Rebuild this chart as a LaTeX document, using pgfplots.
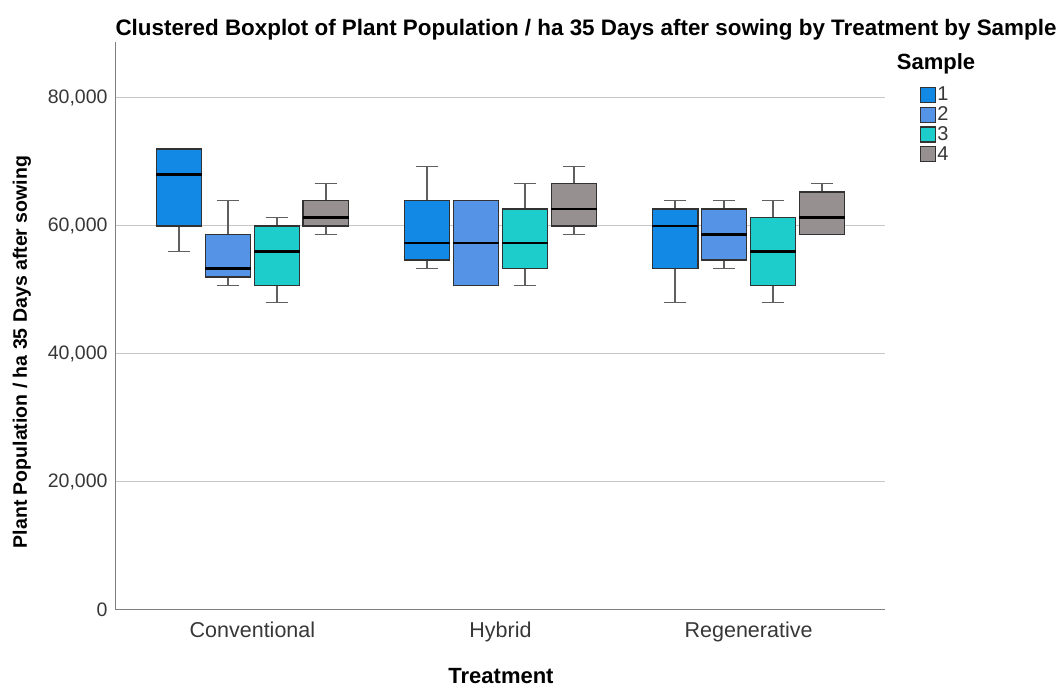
\documentclass[border=0pt]{standalone}
\usepackage{pgfplots}
\pgfplotsset{compat=1.18}
\usepgfplotslibrary{statistics}
\usepackage{fontspec}
\setmainfont{Liberation Sans}
\definecolor{c1}{RGB}{18,137,228}
\definecolor{c2}{RGB}{84,147,229}
\definecolor{c3}{RGB}{28,205,203}
\definecolor{c4}{RGB}{150,145,144}
\definecolor{boxedge}{RGB}{50,50,50}
\definecolor{whisk}{RGB}{95,95,95}
\definecolor{ticktext}{RGB}{55,55,55}
\begin{document}
\begin{tikzpicture}[x=1pt,y=1pt]
\useasboundingbox (-116,-77) rectangle (945,610);
\begin{axis}[
  at={(0,0)}, anchor=south west,
  scale only axis, width=769pt, height=568pt,
  xmin=-0.55, xmax=2.55, ymin=0, ymax=88750,
  axis x line*=bottom, axis y line*=left,
  axis line style={draw=black!50, line width=1pt},
  xtick={0,1,2}, xticklabels={Conventional,Hybrid,Regenerative},
  ytick={0,20000,40000,60000,80000},
  scaled y ticks=false,
  /pgf/number format/1000 sep={,},
  /pgf/number format/assume math mode=true,
  tick style={draw=none},
  yticklabel style={font=\fontsize{19.5}{22}\selectfont, text=ticktext, xshift=-5pt},
  xticklabel style={font=\fontsize{21.5}{24}\selectfont, text=ticktext, yshift=-8pt},
  ymajorgrids, grid style={draw=black!22, line width=1pt},
  boxplot/draw direction=y,
  boxplot/box extend=0.183,
  boxplot/whisker extend=0.09,
  boxplot/every box/.style={draw=boxedge, line width=1.4pt},
  boxplot/every whisker/.style={draw=whisk, line width=1.3pt},
  boxplot/every median/.style={draw=black, line width=2.8pt},
  legend image code/.code={\draw[#1, line width=1.2pt] (0pt,-7.5pt) rectangle (15pt,7.5pt);},
  legend style={at={(axis description cs:1.0455,0.9225)}, anchor=north west,
    draw=none, fill=none, inner sep=0pt, row sep=2.4pt,
    nodes={inner sep=1pt, font=\fontsize{20}{22}\selectfont, text=ticktext}},
  legend cell align=left,
]
\addlegendimage{fill=c1, draw=boxedge}
\addlegendentry{1}
\addlegendimage{fill=c2, draw=boxedge}
\addlegendentry{2}
\addlegendimage{fill=c3, draw=boxedge}
\addlegendentry{3}
\addlegendimage{fill=c4, draw=boxedge}
\addlegendentry{4}
% Conventional
\addplot[forget plot, fill=c1, boxplot prepared={draw position=-0.296, lower whisker=56000, lower quartile=60000, median=68000, upper quartile=72000, upper whisker=72000}] coordinates {};
\addplot[forget plot, fill=c2, boxplot prepared={draw position=-0.0988, lower whisker=50667, lower quartile=52000, median=53333, upper quartile=58667, upper whisker=64000}] coordinates {};
\addplot[forget plot, fill=c3, boxplot prepared={draw position=0.0988, lower whisker=48000, lower quartile=50667, median=56000, upper quartile=60000, upper whisker=61333}] coordinates {};
\addplot[forget plot, fill=c4, boxplot prepared={draw position=0.296, lower whisker=58667, lower quartile=60000, median=61333, upper quartile=64000, upper whisker=66667}] coordinates {};
% Hybrid
\addplot[forget plot, fill=c1, boxplot prepared={draw position=0.704, lower whisker=53333, lower quartile=54667, median=57333, upper quartile=64000, upper whisker=69333}] coordinates {};
\addplot[forget plot, fill=c2, boxplot prepared={draw position=0.9012, lower whisker=50667, lower quartile=50667, median=57333, upper quartile=64000, upper whisker=64000}] coordinates {};
\addplot[forget plot, fill=c3, boxplot prepared={draw position=1.0988, lower whisker=50667, lower quartile=53333, median=57333, upper quartile=62667, upper whisker=66667}] coordinates {};
\addplot[forget plot, fill=c4, boxplot prepared={draw position=1.296, lower whisker=58667, lower quartile=60000, median=62667, upper quartile=66667, upper whisker=69333}] coordinates {};
% Regenerative
\addplot[forget plot, fill=c1, boxplot prepared={draw position=1.704, lower whisker=48000, lower quartile=53333, median=60000, upper quartile=62667, upper whisker=64000}] coordinates {};
\addplot[forget plot, fill=c2, boxplot prepared={draw position=1.9012, lower whisker=53333, lower quartile=54667, median=58667, upper quartile=62667, upper whisker=64000}] coordinates {};
\addplot[forget plot, fill=c3, boxplot prepared={draw position=2.0988, lower whisker=48000, lower quartile=50667, median=56000, upper quartile=61333, upper whisker=64000}] coordinates {};
\addplot[forget plot, fill=c4, boxplot prepared={draw position=2.296, lower whisker=58667, lower quartile=58667, median=61333, upper quartile=65333, upper whisker=66667}] coordinates {};
\end{axis}
\node[font=\bfseries\fontsize{22.4}{25}\selectfont] at (470,580) {Clustered Boxplot of Plant Population / ha 35 Days after sowing by Treatment by Sample};
\node[font=\bfseries\fontsize{19.5}{22}\selectfont, rotate=90] at (-94,258) {Plant Population / ha 35 Days after sowing};
\node[font=\bfseries\fontsize{22}{24}\selectfont, inner sep=0pt] at (385,-66) {Treatment};
\node[font=\bfseries\fontsize{22}{24}\selectfont] at (820,546) {Sample};
\end{tikzpicture}
\end{document}
